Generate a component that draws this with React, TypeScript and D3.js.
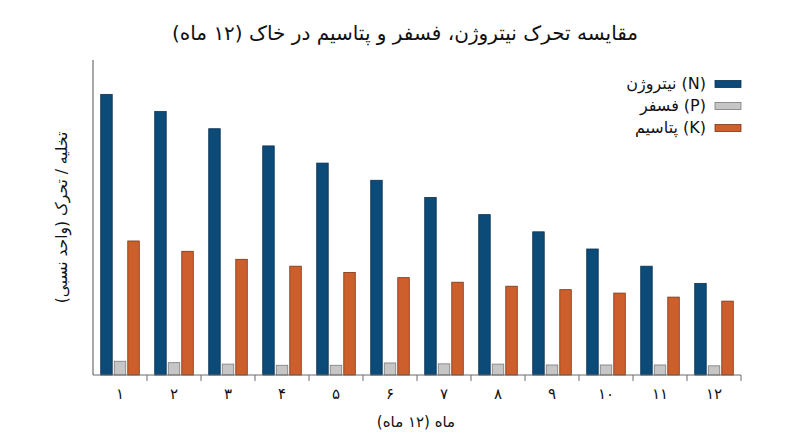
import { useRef, useEffect } from 'react';
import * as d3 from 'd3';

const months = ['۱', '۲', '۳', '۴', '۵', '۶', '۷', '۸', '۹', '۱۰', '۱۱', '۱۲'];
const nitrogen = [49, 46, 43, 40, 37, 34, 31, 28, 25, 22, 19, 16];
const phosphorus = [2.4, 2.15, 1.9, 1.7, 1.7, 2.1, 1.95, 1.9, 1.75, 1.75, 1.75, 1.6];
const potassium = [23.4, 21.6, 20.2, 19.0, 17.9, 17.0, 16.2, 15.5, 14.9, 14.3, 13.6, 12.9];

const seriesKeys = ['N', 'P', 'K'];
const seriesLabels = ['نیتروژن (N)', 'فسفر (P)', 'پتاسیم (K)'];
const seriesFill = ['#0c4a78', '#c6c6c6', '#cc5f2b'];
const seriesStroke = ['#0a3152', '#7a7a7a', '#7a3414'];

const TITLE = 'مقایسه تحرک نیتروژن، فسفر و پتاسیم در خاک (۱۲ ماه)';
const X_LABEL = 'ماه (۱۲ ماه)';
const Y_LABEL = 'تخلیه / تحرک (واحد نسبی)';

const WIDTH = 800;
const HEIGHT = 447;
const MARGIN = { top: 60, right: 59, bottom: 72, left: 93 };
const FONT = '"DejaVu Sans", sans-serif';

export default function App() {
  const svgRef = useRef<SVGSVGElement>(null);

  useEffect(() => {
    if (!svgRef.current) return;
    const svg = d3.select(svgRef.current);
    svg.selectAll('*').remove();

    const iW = WIDTH - MARGIN.left - MARGIN.right;
    const iH = HEIGHT - MARGIN.top - MARGIN.bottom;
    const g = svg.append('g').attr('transform', `translate(${MARGIN.left},${MARGIN.top})`);

    const x0 = d3.scaleBand<string>().domain(months).range([0, iW]).padding(0);
    const pad = x0.bandwidth() * 0.143;
    const x1 = d3.scaleBand<string>().domain(seriesKeys).range([pad, x0.bandwidth() - pad]).paddingInner(0.15);
    const y = d3.scaleLinear().domain([0, 55]).range([iH, 0]);

    const values = [nitrogen, phosphorus, potassium];

    // Bars
    months.forEach((m, i) => {
      const grp = g.append('g').attr('transform', `translate(${x0(m)},0)`);
      seriesKeys.forEach((k, s) => {
        const v = values[s][i];
        grp.append('rect')
          .attr('x', x1(k)!)
          .attr('y', y(v))
          .attr('width', x1.bandwidth())
          .attr('height', iH - y(v))
          .attr('fill', seriesFill[s])
          .attr('stroke', seriesStroke[s])
          .attr('stroke-width', 0.8);
      });
    });

    // Y axis line
    g.append('line')
      .attr('x1', 0).attr('x2', 0)
      .attr('y1', 0).attr('y2', iH)
      .attr('stroke', '#8a8a8a').attr('stroke-width', 1.5);

    // X axis: baseline, ticks at band edges, labels centered
    g.append('line')
      .attr('x1', 0).attr('x2', iW)
      .attr('y1', iH).attr('y2', iH)
      .attr('stroke', '#6a6a6a').attr('stroke-width', 1);

    g.append('g')
      .selectAll('line')
      .data(months.slice(1).map((m) => x0(m)!).concat([iW]))
      .join('line')
      .attr('x1', (d) => d).attr('x2', (d) => d)
      .attr('y1', iH).attr('y2', iH + 6)
      .attr('stroke', '#6a6a6a');

    g.append('g')
      .selectAll('text')
      .data(months)
      .join('text')
      .attr('x', (d) => x0(d)! + x0.bandwidth() / 2)
      .attr('y', iH + 24)
      .attr('text-anchor', 'middle')
      .attr('font-family', FONT)
      .attr('font-size', '15px')
      .attr('fill', '#111')
      .text((d) => d);

    // Axis labels
    svg.append('text')
      .attr('x', 416).attr('y', 427)
      .attr('text-anchor', 'middle')
      .attr('font-family', FONT)
      .attr('font-size', '15px')
      .attr('fill', '#111')
      .text(X_LABEL);

    svg.append('text')
      .attr('transform', `translate(67,${MARGIN.top + iH / 2}) rotate(-90)`)
      .attr('text-anchor', 'middle')
      .attr('font-family', FONT)
      .attr('font-size', '15.5px')
      .attr('fill', '#111')
      .text(Y_LABEL);

    // Title
    svg.append('text')
      .attr('x', 405).attr('y', 40)
      .attr('text-anchor', 'middle')
      .attr('font-family', FONT)
      .attr('font-size', '20px')
      .attr('fill', '#111')
      .text(TITLE);

    // Legend
    const legend = svg.append('g').attr('transform', 'translate(715,84)');
    seriesLabels.forEach((lab, s) => {
      const row = legend.append('g').attr('transform', `translate(0,${s * 22})`);
      row.append('rect')
        .attr('x', 0).attr('y', -3.5)
        .attr('width', 26).attr('height', 7)
        .attr('fill', seriesFill[s])
        .attr('stroke', seriesStroke[s])
        .attr('stroke-width', 0.8);
      row.append('text')
        .attr('x', -9).attr('y', 5)
        .attr('text-anchor', 'end')
        .attr('font-family', FONT)
        .attr('font-size', '16px')
        .attr('fill', '#111')
        .text(lab);
    });
  }, []);

  return (
    <svg
      ref={svgRef}
      width={WIDTH}
      height={HEIGHT}
      viewBox={`0 0 ${WIDTH} ${HEIGHT}`}
      style={{ display: 'block', position: 'absolute', left: 0, top: 0, background: '#fff' }}
    />
  );
}
